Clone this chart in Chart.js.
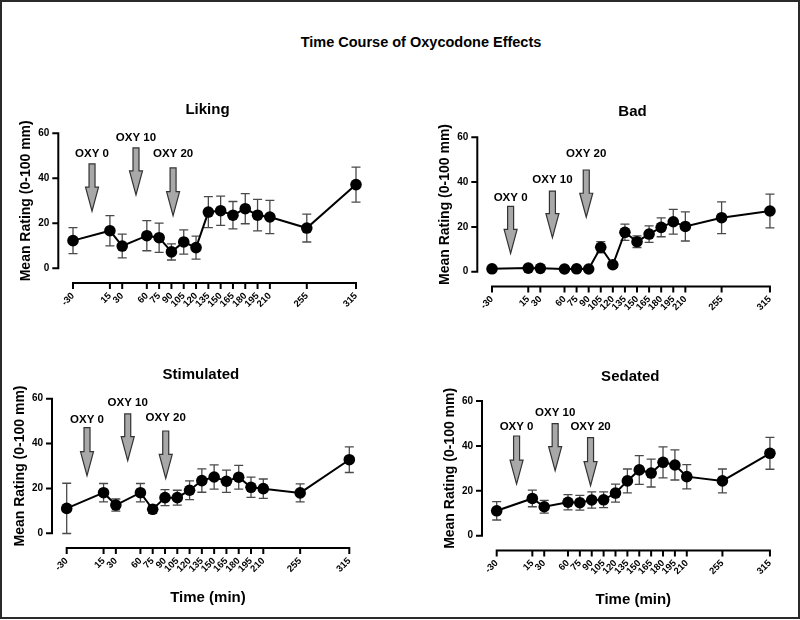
<!DOCTYPE html>
<html>
<head>
<meta charset="utf-8">
<script src="https://cdn.jsdelivr.net/npm/chart.js@4.4.0/dist/chart.umd.min.js"></script>
<style>
  html, body { margin: 0; padding: 0; background: #fff; overflow: hidden; }
  #frame { position: absolute; left: 0; top: 0; width: 800px; height: 619px; box-sizing: border-box; border: 2px solid #2a2a2a; }
  #mainTitle { position: absolute; left: 421px; top: 42px; transform: translate(-50%, -50%);
    font: bold 14.5px 'Liberation Sans', Arial, sans-serif; white-space: nowrap; color: #000; }
  canvas { position: absolute; }
</style>
</head>
<body>
<div id="frame"></div>
<div id="mainTitle">Time Course of Oxycodone Effects</div>
<canvas id="liking"></canvas>
<canvas id="bad"></canvas>
<canvas id="stimulated"></canvas>
<canvas id="sedated"></canvas>
<script>
"use strict";
// time points (min) and tick labels
var times = [-30, 15, 30, 60, 75, 90, 105, 120, 135, 150, 165, 180, 195, 210, 255, 315];
var xTicks = [-30, 15, 30, 60, 75, 90, 105, 120, 135, 150, 165, 180, 195, 210, 255, 315];
var yTicks = [0, 20, 40, 60];

// mean ratings and error (+/-)
var liking = [12.3, 16.7, 9.9, 14.5, 13.6, 7.3, 11.7, 9.2, 25.0, 25.6, 23.6, 26.5, 23.6, 22.8, 17.9, 37.2];
var likingErr = [5.8, 6.7, 5.3, 6.7, 6.5, 3.6, 5.4, 5.1, 6.9, 6.5, 6.1, 6.7, 7.0, 7.4, 6.2, 7.8];
var bad = [1.3, 1.6, 1.5, 1.2, 1.3, 1.2, 10.9, 3.1, 17.6, 13.4, 16.8, 19.8, 22.3, 20.2, 24.1, 27.1];
var badErr = [0.5, 0.6, 0.5, 0.4, 0.5, 0.4, 2.5, 1.2, 3.6, 2.6, 3.7, 4.2, 5.5, 6.5, 7.1, 7.5];
var stimulated = [11.1, 18.1, 12.6, 18.1, 10.7, 15.9, 15.9, 19.2, 23.5, 25.1, 23.2, 25.0, 20.5, 19.9, 18.0, 32.8];
var stimulatedErr = [11.2, 4.1, 2.7, 4.1, 1.8, 3.6, 3.3, 4.2, 5.2, 5.4, 5.0, 5.3, 4.5, 4.3, 4.0, 5.7];
var sedated = [11.1, 16.6, 12.9, 14.9, 14.7, 15.9, 16.0, 19.0, 24.4, 29.3, 27.9, 32.7, 31.5, 26.3, 24.4, 36.7];
var sedatedErr = [4.1, 3.7, 2.8, 3.4, 3.3, 3.6, 3.5, 4.0, 5.3, 6.4, 6.2, 6.9, 6.7, 5.4, 5.3, 7.1];

var oxyLabels = ['OXY 0', 'OXY 10', 'OXY 20'];

// dose arrows, in data units: time, top of shaft, tip, label centre
var likingArrows = { x: [-6.8, 46.8, 92], top: [46.4, 53.5, 44.6], tip: [25.4, 32.6, 23.4], label: [50.8, 58.2, 50.8] };
var badArrows = { x: [-6.9, 45, 87], top: [29.2, 36, 45.4], tip: [8.2, 15.2, 24.3], label: [32.8, 40.9, 52.4] };
var stimulatedArrows = { x: [-5.2, 44.5, 90.9], top: [47.1, 53.2, 45.6], tip: [25.7, 32.4, 24.5], label: [50.8, 58.3, 51.3] };
var sedatedArrows = { x: [-4.9, 43.8, 88.5], top: [44.4, 49.9, 43.7], tip: [23, 29, 22.3], label: [48.3, 54.8, 48.6] };

Chart.defaults.font.family = "'Liberation Sans', Arial, sans-serif";
Chart.defaults.font.weight = 'bold';
Chart.defaults.color = '#000';

// axes (offset Prism style), error bars, arrows, panel title
var panelDeco = {
  id: 'panelDeco',
  beforeDatasetsDraw(chart, args, opts) {
    var ctx = chart.ctx, xs = chart.scales.x, ys = chart.scales.y, ca = chart.chartArea;
    var ax = ca.left - opts.gap, ay = ca.bottom + opts.gap;
    ctx.save();
    ctx.strokeStyle = '#000';
    ctx.lineWidth = 2;
    ctx.beginPath();
    ctx.moveTo(ax, ys.getPixelForValue(yTicks[0]) + 1);
    ctx.lineTo(ax, ys.getPixelForValue(yTicks[yTicks.length - 1]) - 1);
    yTicks.forEach((v) => {
      var py = ys.getPixelForValue(v);
      ctx.moveTo(ax, py);
      ctx.lineTo(ax - 6, py);
    });
    ctx.moveTo(xs.getPixelForValue(xTicks[0]) - 1, ay);
    ctx.lineTo(xs.getPixelForValue(xTicks[xTicks.length - 1]) + 1, ay);
    xTicks.forEach((v) => {
      var px = xs.getPixelForValue(v);
      ctx.moveTo(px, ay);
      ctx.lineTo(px, ay + 6);
    });
    ctx.stroke();

    // error bars
    ctx.strokeStyle = '#4a4a4a';
    ctx.lineWidth = 1.3;
    ctx.beginPath();
    times.forEach((t, i) => {
      var px = xs.getPixelForValue(t);
      var lo = ys.getPixelForValue(opts.values[i] - opts.errors[i]);
      var hi = ys.getPixelForValue(opts.values[i] + opts.errors[i]);
      ctx.moveTo(px, lo); ctx.lineTo(px, hi);
      ctx.moveTo(px - 4.5, lo); ctx.lineTo(px + 4.5, lo);
      ctx.moveTo(px - 4.5, hi); ctx.lineTo(px + 4.5, hi);
    });
    ctx.stroke();

    // dose arrows
    var ar = opts.arrows;
    ctx.font = "bold 11.5px 'Liberation Sans', Arial, sans-serif";
    ctx.textAlign = 'center';
    ctx.textBaseline = 'middle';
    ar.x.forEach((t, i) => {
      var px = xs.getPixelForValue(t);
      var top = ys.getPixelForValue(ar.top[i]);
      var tip = ys.getPixelForValue(ar.tip[i]);
      var neck = tip - 24;
      ctx.beginPath();
      ctx.moveTo(px - 3, top);
      ctx.lineTo(px + 3, top);
      ctx.lineTo(px + 3, neck);
      ctx.lineTo(px + 6.5, neck);
      ctx.lineTo(px, tip);
      ctx.lineTo(px - 6.5, neck);
      ctx.lineTo(px - 3, neck);
      ctx.closePath();
      ctx.fillStyle = '#a8a8a8';
      ctx.fill();
      ctx.strokeStyle = '#333';
      ctx.lineWidth = 1.2;
      ctx.stroke();
      ctx.fillStyle = '#000';
      ctx.fillText(oxyLabels[i], px, ys.getPixelForValue(ar.label[i]));
    });

    // panel title
    ctx.font = "bold 15px 'Liberation Sans', Arial, sans-serif";
    ctx.fillText(opts.title, opts.titleX, opts.titleY);
    ctx.restore();
  }
};

function makePanel(id, name, values, errors, arrows, box, area, titlePos, xTitleY) {
  // box: canvas [left, top, width, height]; area: wanted plot area [left, right, top, bottom] on the page
  var el = document.getElementById(id);
  el.width = box[2];
  el.height = box[3];
  el.style.left = box[0] + 'px';
  el.style.top = box[1] + 'px';
  var wY = area[0] - box[0];
  var hX = box[1] + box[3] - area[3];
  var xTitleFont = 15;

  return new Chart(el.getContext('2d'), {
    type: 'line',
    data: {
      datasets: [{
        data: times.map((t, i) => ({ x: t, y: values[i] })),
        borderColor: '#000',
        borderWidth: 2,
        pointRadius: 5.8,
        pointHoverRadius: 5.8,
        pointBackgroundColor: '#000',
        pointBorderColor: '#000',
        pointBorderWidth: 0,
        tension: 0,
        clip: false
      }]
    },
    options: {
      responsive: false,
      animation: false,
      events: [],
      layout: { padding: { left: 0, top: area[2] - box[1], right: box[0] + box[2] - area[1], bottom: 0 } },
      plugins: {
        legend: { display: false },
        tooltip: { enabled: false },
        panelDeco: {
          gap: 14.7,
          values: values,
          errors: errors,
          arrows: arrows,
          title: name,
          titleX: titlePos[0] - box[0],
          titleY: titlePos[1] - box[1]
        }
      },
      scales: {
        x: {
          type: 'linear',
          min: xTicks[0],
          max: xTicks[xTicks.length - 1],
          afterBuildTicks: (s) => { s.ticks = xTicks.map((v) => ({ value: v })); },
          afterFit: (s) => { s.height = hX; },
          grid: { display: false, drawTicks: false },
          border: { display: false },
          ticks: { autoSkip: false, minRotation: 45, maxRotation: 45, padding: 22, font: { size: 9.5, weight: 'bold' } },
          title: {
            display: xTitleY != null,
            text: 'Time (min)',
            font: { size: xTitleFont, weight: 'bold' },
            padding: { top: 0, bottom: xTitleY != null ? (box[1] + box[3] - xTitleY - xTitleFont * 0.6) : 0 }
          }
        },
        y: {
          min: yTicks[0],
          max: yTicks[yTicks.length - 1],
          afterBuildTicks: (s) => { s.ticks = yTicks.map((v) => ({ value: v })); },
          afterFit: (s) => { s.width = wY; },
          grid: { display: false, drawTicks: false },
          border: { display: false },
          ticks: { padding: 23.7, font: { size: 10, weight: 'bold' } },
          title: {
            display: true,
            text: 'Mean Rating (0-100 mm)',
            font: { size: 14, weight: 'bold' },
            padding: { top: wY - 47 - 8.4, bottom: 0 }
          }
        }
      }
    },
    plugins: [panelDeco]
  });
}

makePanel('liking', 'Liking', liking, likingErr, likingArrows, [0, 70, 400, 250], [73, 356, 133.3, 268.3], [207.5, 110], null);
makePanel('bad', 'Bad', bad, badErr, badArrows, [400, 70, 400, 250], [492, 775.7, 137.3, 271.7], [632.5, 111.7], null);
makePanel('stimulated', 'Stimulated', stimulated, stimulatedErr, stimulatedArrows, [0, 340, 400, 276], [66.7, 349.3, 398.7, 533.3], [200.8, 375], 598);
makePanel('sedated', 'Sedated', sedated, sedatedErr, sedatedArrows, [400, 340, 400, 276], [496.7, 780, 401, 535.7], [630.3, 376.7], 600);
</script>
</body>
</html>
